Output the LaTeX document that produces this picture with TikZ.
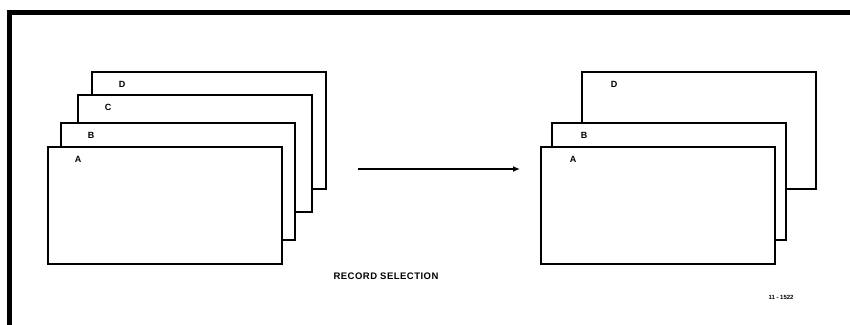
\documentclass[tikz,border=0pt]{standalone}
\usepackage{fontspec}
\setmainfont{Liberation Sans}
\usepackage{tikz}
\usetikzlibrary{positioning,arrows.meta,calc}

\tikzset{
  card/.style={draw, fill=white, line width=1.5pt, anchor=north west, inner sep=0pt,
    minimum width=234pt, minimum height=117pt},
  tag/.style={font=\fontsize{9}{10}\selectfont\bfseries, anchor=center},
}

\begin{document}
\begin{tikzpicture}[x=1pt, y=-1pt, >=Latex]
    \useasboundingbox (0,0) rectangle (850,324);
    % frame
    \draw[line width=5pt] (852,12.5) -- (9,12.5) -- (9,326);
    % stack before selection
    \foreach \name/\x/\y in {D/91/71, C/77/94, B/60/122, A/47/146} {
      \node[card] (l\name) at (\x,\y) {};
      \node[tag] at ([shift={(31,13)}]l\name.north west) {\name};
    }
    % stack after selection
    \foreach \name/\x/\y in {D/581/71, B/551/122, A/540/146} {
      \node[card] (r\name) at (\x,\y) {};
      \node[tag] at ([shift={(33,13)}]r\name.north west) {\name};
    }
    \coordinate (from) at (358,169);
    \coordinate (to) at ([xshift=-20]rA.west |- from);
    \draw[->, line width=1.4pt, >={Latex[length=7pt,width=6pt]}] (from) -- (to);
    \node[font=\fontsize{9.5}{11}\selectfont\bfseries\addfontfeature{LetterSpace=5}] (caption) at (386,276) {RECORD SELECTION};
    \node[font=\fontsize{6}{7}\selectfont\bfseries] (figno) at (781,297) {11 - 1522};
\end{tikzpicture}
\end{document}
